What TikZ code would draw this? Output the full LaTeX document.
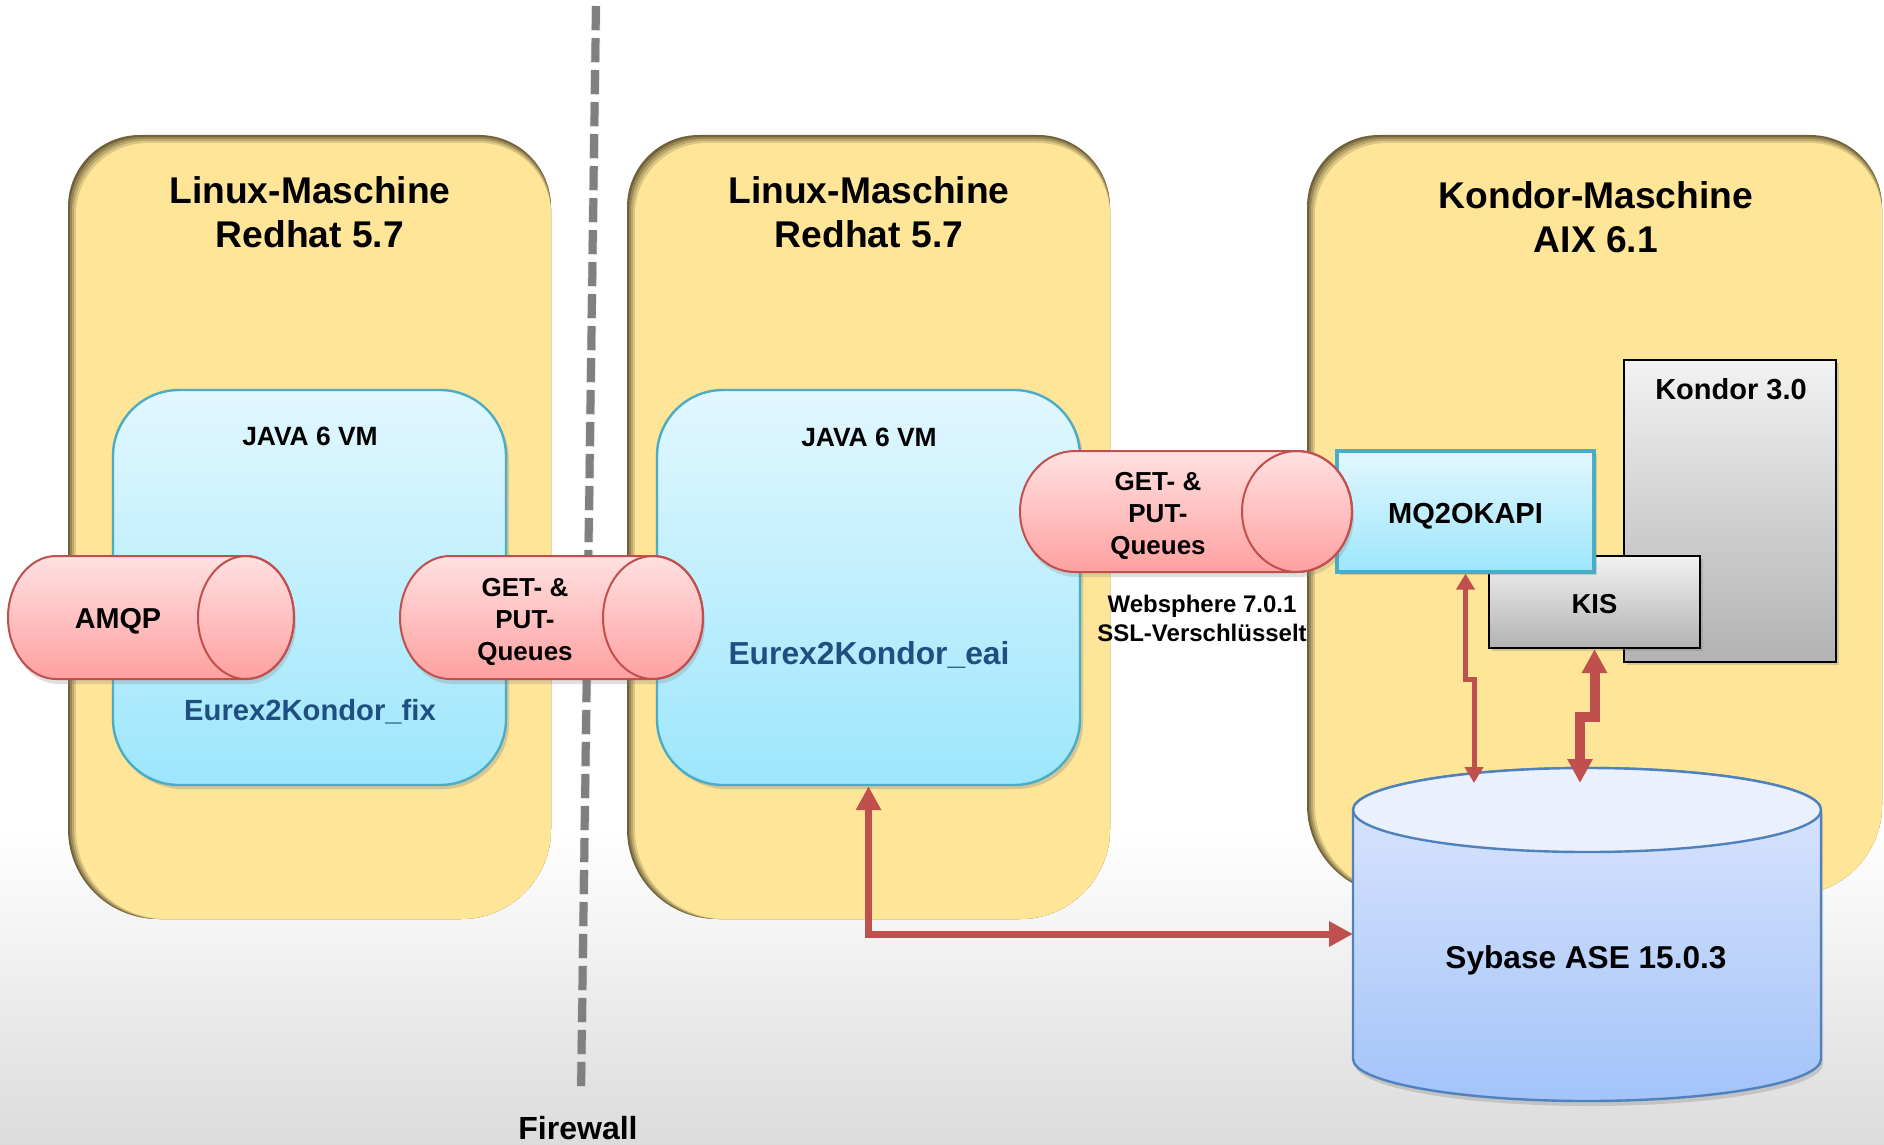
\documentclass[tikz,border=0pt]{standalone}
\usepackage{fontspec}
\setmainfont{Liberation Sans}
\usetikzlibrary{arrows.meta,shadows,fit}
\definecolor{ybg}{HTML}{FFE597}
\definecolor{ydA}{HTML}{6F6139}
\definecolor{ydB}{HTML}{978553}
\definecolor{ydC}{HTML}{BCA86C}
\definecolor{ydD}{HTML}{DCC683}
\definecolor{cyantop}{HTML}{E2F7FF}
\definecolor{cyanbot}{HTML}{9DE6FB}
\definecolor{cyanline}{HTML}{4BACC6}
\definecolor{redtop}{HTML}{FFE1E1}
\definecolor{redbot}{HTML}{FFA0A0}
\definecolor{redline}{HTML}{C0504D}
\definecolor{graytop}{HTML}{F2F2F2}
\definecolor{graybot}{HTML}{B2B2B2}
\definecolor{dbtop}{HTML}{DDE7FB}
\definecolor{dbbot}{HTML}{A3C3FA}
\definecolor{dbcap}{HTML}{EAF1FD}
\definecolor{dbline}{HTML}{4F81BD}
\definecolor{eurex}{HTML}{1F4E80}
\definecolor{fwgray}{HTML}{808080}
\definecolor{arrowred}{HTML}{C0504D}

% yellow machine box layer: colour, offset, x0, y0, x1, y1
\newcommand{\ylayer}[6]{%
  \fill[#1] ({#3+#2},{(#4+#6)/2}) [rounded corners=36pt] |- ({(#3+#5)/2},{#4+#2}) -| (#5,{(#4+#6)/2})
    [rounded corners=45pt] |- ({(#3+#5)/2},#6) -| ({#3+#2},{(#4+#6)/2}) [sharp corners] -- cycle;}
\newcommand{\machinebox}[4]{%
  \ylayer{ydA}{0}{#1}{#2}{#3}{#4}
  \ylayer{ydB}{2}{#1}{#2}{#3}{#4}
  \ylayer{ydC}{4}{#1}{#2}{#3}{#4}
  \ylayer{ydD}{6}{#1}{#2}{#3}{#4}
  \ylayer{ybg}{8}{#1}{#2}{#3}{#4}}
% horizontal queue cylinder: left centre x, right centre x, top y, bottom y, rx, ry, centre y
\newcommand{\hcyl}[7]{%
  \path[redcyl] (#1,#3) -- (#2,#3) arc[start angle=90,end angle=-90,x radius=#5,y radius=#6]
    -- (#1,#4) arc[start angle=270,end angle=90,x radius=#5,y radius=#6] -- cycle;
  \draw[redline, line width=1pt] (#2,#7) ellipse [x radius=#5, y radius=#6];}

\tikzset{
  redcyl/.style={draw=redline, line width=1pt, top color=redtop, bottom color=redbot,
    drop shadow={opacity=0.25, shadow xshift=1pt, shadow yshift=-2.5pt}},
  cyanbox/.style={draw=cyanline, line width=1.2pt, top color=cyantop, bottom color=cyanbot,
    rounded corners=33pt, inner sep=0pt,
    drop shadow={opacity=0.3, shadow xshift=1.5pt, shadow yshift=-2pt}},
  graybox/.style={draw=black, line width=1.1pt, top color=graytop, bottom color=graybot,
    inner sep=0pt, drop shadow={opacity=0.3, shadow xshift=1.5pt, shadow yshift=-1.5pt}},
  mqbox/.style={draw=cyanline, line width=1.6pt, top color=cyantop, bottom color=cyanbot,
    inner sep=0pt, drop shadow={opacity=0.3, shadow xshift=1.5pt, shadow yshift=-1.5pt}},
  ttl/.style={align=center, font=\bfseries\fontsize{18.6pt}{22.2pt}\selectfont},
  jv/.style={font=\bfseries\fontsize{13.2pt}{15pt}\selectfont},
  eur/.style={text=eurex, font=\bfseries\fontsize{#1}{18pt}\selectfont},
  qtxt/.style={align=center, font=\bfseries\fontsize{13pt}{16pt}\selectfont},
  lbl/.style={font=\bfseries\fontsize{#1}{18pt}\selectfont},
  arr/.style={draw=arrowred, line join=miter},
}

\begin{document}
\begin{tikzpicture}[x=0.5pt,y=-0.5pt]
\useasboundingbox (0,0) rectangle (1884,1145);
% background
\fill[white] (0,0) rectangle (1884,1145);
\shade[top color=white, bottom color=gray!28] (0,830) rectangle (1884,1145);

% machine boxes
\machinebox{68}{135}{551}{919}
\machinebox{627}{135}{1110}{919}
\machinebox{1307}{135}{1882}{895}

% firewall
\coordinate (fwTop) at (596,6);
\coordinate (fwBot) at (581,1093);
\draw[fwgray!60, line width=4.6pt, opacity=0.35, dash pattern=on 12pt off 4pt, dash phase=-0.5pt] (fwTop) -- (fwBot);
\draw[fwgray, line width=4pt, dash pattern=on 12pt off 4pt] (fwTop) -- (fwBot);
\node[lbl=16pt] (fw) at (578,1128) {Firewall};

% JVM boxes
\node[cyanbox, fit={(113,390) (506,785)}] (vm1) {};
\node[cyanbox, fit={(657,390) (1080,785)}] (vm2) {};

% Kondor side boxes
\node[graybox, fit={(1624,360) (1836,662)}] (kondor) {};
\node[graybox, fit={(1489,556) (1700,648)}] (kis) {};
\node[mqbox, fit={(1337,451) (1594,572)}] (mq) {};
\node[lbl=13.7pt] (kist) at ([yshift=-1pt]kis.center) {KIS};
\node[lbl=14.5pt] (mqt) at ([yshift=-2.5pt]mq.center) {MQ2OKAPI};
\node[lbl=14.5pt] (kt) at (1731,389) {Kondor 3.0};

% queue cylinders
\hcyl{56}{246}{556}{679}{24pt}{30.75pt}{617.5}
\hcyl{450}{653}{556}{679}{25pt}{30.75pt}{617.5}
\hcyl{1075}{1297}{451}{572}{27.5pt}{30.25pt}{511.5}

% database
\path[draw=dbline, line width=1.2pt, top color=dbtop, bottom color=dbbot,
  drop shadow={opacity=0.3, shadow xshift=1pt, shadow yshift=-2.5pt}]
  (1353,810) -- (1353,1059) arc[start angle=180,end angle=360,x radius=117pt,y radius=21pt]
  -- (1821,810) arc[start angle=0,end angle=180,x radius=117pt,y radius=21pt] -- cycle;
\filldraw[fill=dbcap, draw=dbline, line width=1.2pt] (1587,810) ellipse [x radius=117pt, y radius=21pt];
\coordinate (dbW) at (1353,934);
\coordinate (dbT1) at (1474,783);
\coordinate (dbT2) at (1580,783);
\node[lbl=15.8pt] (syb) at (1586,960) {Sybase ASE 15.0.3};

% texts
\node[ttl] (t1) at (310,212) {Linux-Maschine\\Redhat 5.7};
\node[ttl] (t2) at (869,212) {Linux-Maschine\\Redhat 5.7};
\node[ttl] (t3) at (1596,217) {Kondor-Maschine\\AIX 6.1};
\node[jv] (j1) at (310,436) {JAVA 6 VM};
\node[jv] (j2) at (869,437) {JAVA 6 VM};
\node[eur=14.6pt] (fix) at (310,712) {Eurex2Kondor\_fix};
\node[eur=15.9pt] (eai) at (869,655) {Eurex2Kondor\_eai};
\node[lbl=14.4pt] (amqp) at (118,621) {AMQP};
\node[qtxt] (q1) at (525,622) {GET- \&\\PUT-\\Queues};
\node[qtxt] (q2) at (1158,516) {GET- \&\\PUT-\\Queues};
\node[align=center, font=\bfseries\fontsize{12pt}{14.5pt}\selectfont] (ws) at (1202,618) {Websphere 7.0.1\\SSL-Verschlüsselt};

% connectors
\draw[arr, line width=3.5pt, {Triangle[length=12pt,width=12pt]}-{Triangle[length=12pt,width=12pt]}]
  (vm2.south) |- (dbW);
\draw[arr, line width=2.5pt, {Triangle[length=8pt,width=9pt]}-{Triangle[length=8pt,width=9pt]}]
  (mq.south) -- ++(0,106) -| (dbT1);
\draw[arr, line width=5pt, {Triangle[length=12pt,width=12pt]}-{Triangle[length=12pt,width=12pt]}]
  (kis.south) -- ++(0,68) -| (dbT2);
\end{tikzpicture}
\end{document}
